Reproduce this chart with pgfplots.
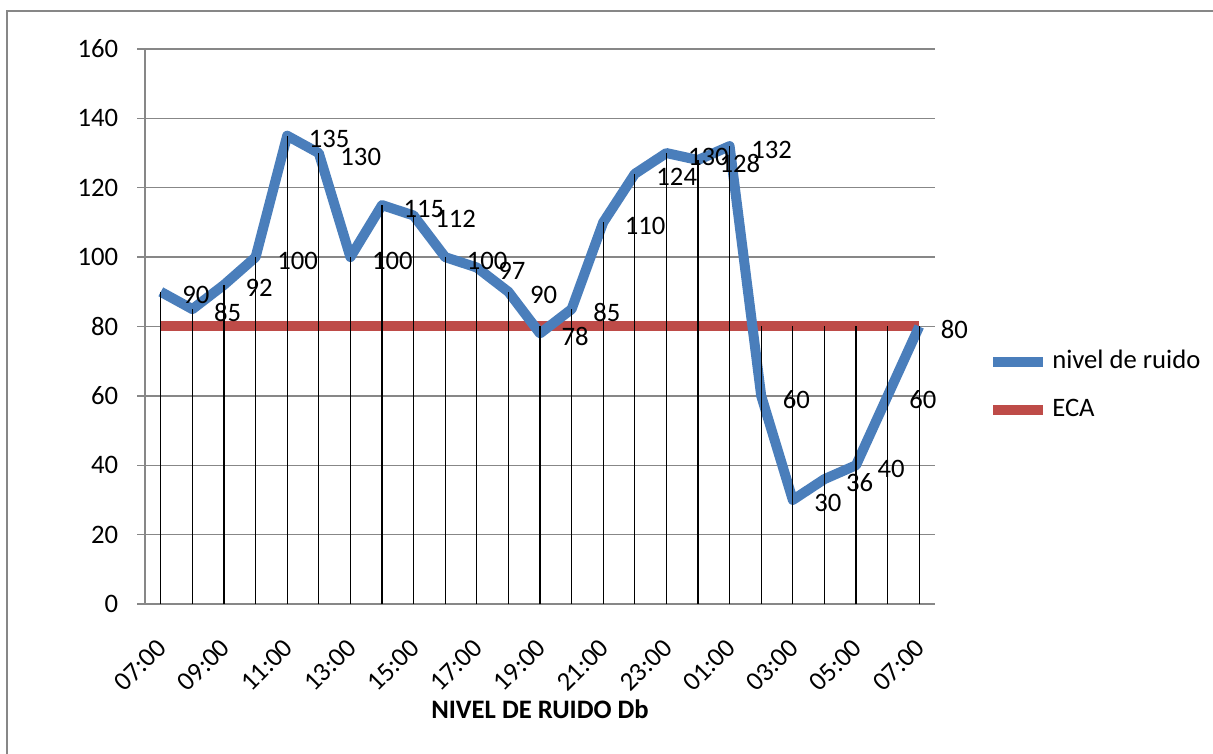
\documentclass[border=0pt]{standalone}
\usepackage{pgfplots}
\pgfplotsset{compat=1.18}
\usepackage{fontspec}
\setmainfont{Carlito}
\definecolor{serieblue}{HTML}{4A7EBB}
\definecolor{ecared}{HTML}{BE4B48}
\definecolor{gridgray}{HTML}{878787}
\newcommand\chartfont{\fontsize{20pt}{24pt}\selectfont}
\begin{document}
\begin{tikzpicture}[x=1pt,y=1pt]
\useasboundingbox (0,0) rectangle (909.75,564.75);
\draw[gridgray, line width=1.5pt] (5.25,-5) -- (5.25,556.5) -- (915,556.5);
\begin{axis}[
  at={(108.75pt,111.75pt)}, anchor=south west,
  scale only axis, width=592.5pt, height=416.25pt,
  xmin=-0.5, xmax=24.5, ymin=0, ymax=160,
  clip=false,
  axis lines*=left,
  axis line style={gridgray, line width=1pt},
  xtick={0,2,...,24},
  xticklabels={07:00,09:00,11:00,13:00,15:00,17:00,19:00,21:00,23:00,01:00,03:00,05:00,07:00},
  xtick style={draw=none},
  ytick={0,20,...,160},
  ytick style={gridgray, line width=1pt},
  tick align=outside,
  major tick length=6pt,
  ymajorgrids,
  major grid style={gridgray, line width=1pt},
  /pgf/number format/assume math mode=true,
  ticklabel style={font=\chartfont, text=black},
  yticklabel style={anchor=east, inner sep=0pt, xshift=-14pt},
  xticklabel style={inner sep=0pt, yshift=-23.5pt, xshift=1pt, rotate=45, anchor=east},
  xlabel={\textbf{NIVEL DE RUIDO Db}},
  xlabel style={font=\chartfont, at={(rel axis cs:0.5,0)}, anchor=center, yshift=-78.75pt},
  legend image code/.code={\draw[#1] (0pt,0pt) -- (37.5pt,0pt);},
  reverse legend,
  legend style={draw=none, fill=none, inner sep=0pt, font=\chartfont,
    at={(rel axis cs:1.0671,0.3928)}, anchor=west,
    row sep=18pt,
    nodes={inner sep=0pt, text height=14pt, text depth=4pt},
    /tikz/every odd column/.append style={column sep=3pt}},
  legend cell align=left,
]
\addplot[ecared, line width=7.5pt] coordinates {
(0,80) (1,80) (2,80) (3,80) (4,80) (5,80) (6,80) (7,80) (8,80) (9,80) (10,80) (11,80) (12,80)
(13,80) (14,80) (15,80) (16,80) (17,80) (18,80) (19,80) (20,80) (21,80) (22,80) (23,80) (24,80)};
\addlegendentry{ECA}
\addplot[serieblue, line width=7.5pt, line join=round,
  nodes near coords, nodes near coords align=horizontal,
  every node near coord/.append style={anchor=west, inner sep=0pt, xshift=12.5pt, yshift=-2.6pt, font=\chartfont, text=black}]
  coordinates {
(0,90) (1,85) (2,92) (3,100) (4,135) (5,130) (6,100) (7,115) (8,112) (9,100) (10,97) (11,90) (12,78)
(13,85) (14,110) (15,124) (16,130) (17,128) (18,132) (19,60) (20,30) (21,36) (22,40) (23,60) (24,80)};
\addlegendentry{nivel de ruido}
\addplot[black, line width=1pt, ycomb, forget plot] coordinates {
(0,90) (1,85) (2,92) (3,100) (4,135) (5,130) (6,100) (7,115) (8,112) (9,100) (10,97) (11,90) (12,80)
(13,85) (14,110) (15,124) (16,130) (17,128) (18,132) (19,80) (20,80) (21,80) (22,80) (23,80) (24,80)};
\end{axis}
\end{tikzpicture}
\end{document}
